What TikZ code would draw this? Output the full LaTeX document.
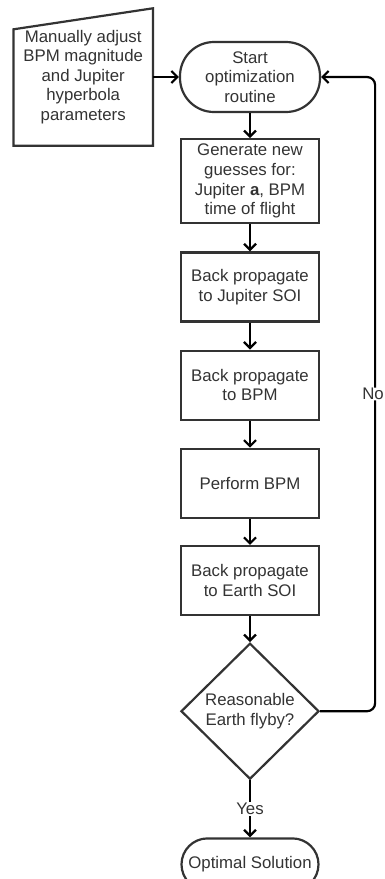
\documentclass[tikz,border=0pt]{standalone}
\usepackage{fontspec}
\setmainfont{Liberation Sans}
\usetikzlibrary{positioning,shapes.geometric,arrows.meta,calc}
\begin{document}
\begin{tikzpicture}[x=1pt, y=-1pt, node distance=26pt,
            font=\fontsize{16.8}{19.6}\selectfont, text=black!80,
            box/.style={draw=black!80, line width=2.2pt, minimum width=138pt, minimum height=69pt, align=center, inner sep=1pt},
            term/.style={box, rounded corners=#1},
            arr/.style={-{Straight Barb[length=6pt,width=12pt]}, line width=2.2pt, draw=black}]
            \useasboundingbox (0,0) rectangle (384,879);
            \node(S) [term=34pt, minimum width=140pt, minimum height=70pt] at (250,77) {Start\\optimization\\routine};
            \node(M) [minimum width=139pt, minimum height=137pt, align=center, left=26pt of S] {Manually adjust\\BPM magnitude\\and Jupiter\\hyperbola\\parameters};
            \node(G) [box, minimum height=84pt, below=25pt of S] {Generate new\\guesses for:\\Jupiter \textbf{a}, BPM\\time of flight};
            \node(J) [box, below=27pt of G] {Back propagate\\to Jupiter SOI};
            \node(B) [box, below=27pt of J] {Back propagate\\to BPM};
            \node(P) [box, below=27pt of B] {Perform BPM};
            \node(E) [box, below=of P] {Back propagate\\to Earth SOI};
            \node(D) [box, diamond, aspect=1, minimum width=138pt, minimum height=136pt, inner sep=0pt, below=of E] {Reasonable\\Earth flyby?};
            \node(O) [term=26pt, minimum width=137pt, minimum height=52pt, below=57pt of D] {Optimal Solution};
            \draw[line width=2.2pt, draw=black!80] (M.south west) -- (M.south east) -- (M.north east) -- ($(M.north west)+(0,21)$) -- cycle;
            \draw[arr](M) -- (S);
            \draw[arr](S) -- (G);
            \draw[arr](G) -- (J);
            \draw[arr](J) -- (B);
            \draw[arr](B) -- (P);
            \draw[arr](P) -- (E);
            \draw[arr](E) -- (D);
            \draw[arr](D) -- node[fill=white, inner sep=1pt] {Yes} (O);
            \draw[arr, rounded corners=8pt](D.east) -- ++(55,0) |- node[pos=0.25, fill=white, inner sep=0.5pt, xshift=-2pt] {No} (S.east);
            \end{tikzpicture}
\end{document}
